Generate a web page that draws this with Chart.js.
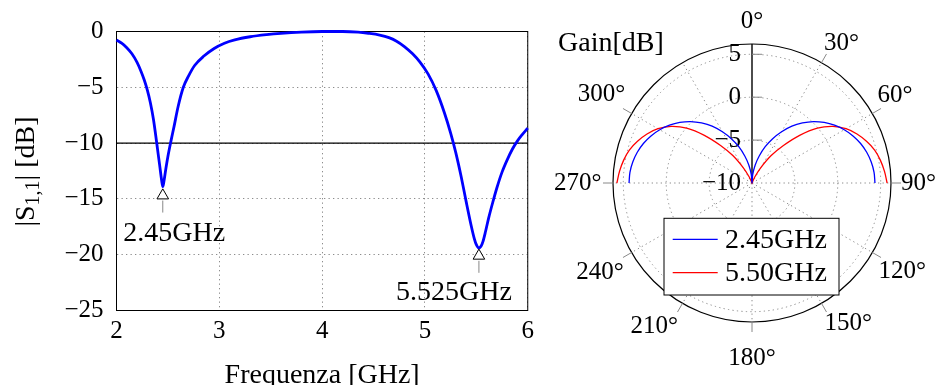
<!DOCTYPE html>
<html><head><meta charset="utf-8">
<script src="https://cdn.jsdelivr.net/npm/chart.js@4.4.1/dist/chart.umd.min.js"></script>
<style>
html,body{margin:0;padding:0;background:#fff;overflow:hidden;width:942px;height:385px;position:relative;}
#c1{position:absolute;left:0;top:0;}
#c2{position:absolute;left:547px;top:-8px;}
</style></head><body>
<canvas id="c1" width="540" height="385"></canvas>
<canvas id="c2" width="396" height="396"></canvas>
<script>
// ---------- Left chart data: |S1,1| vs frequency ----------
const freqGHz = [2.00,2.05,2.10,2.15,2.20,2.24,2.27,2.30,2.33,2.36,2.39,2.42,2.44,2.45,2.46,2.48,2.50,2.53,2.56,2.60,2.65,2.70,2.76,2.85,2.95,3.05,3.15,3.30,3.46,3.60,3.80,4.00,4.20,4.35,4.45,4.56,4.65,4.72,4.80,4.88,4.95,5.03,5.11,5.19,5.25,5.30,5.35,5.40,5.45,5.48,5.50,5.525,5.545,5.565,5.59,5.62,5.66,5.70,5.75,5.80,5.85,5.90,5.95,6.00];
const s11dB = [-0.76,-1.05,-1.45,-2.0,-2.77,-3.6,-4.35,-5.25,-6.4,-7.9,-9.9,-12.0,-13.4,-13.9,-13.5,-12.3,-11.2,-9.8,-8.5,-6.7,-5.0,-4.0,-3.05,-2.2,-1.52,-1.05,-0.75,-0.47,-0.28,-0.16,-0.05,0,0,-0.06,-0.16,-0.32,-0.55,-0.85,-1.35,-2.0,-2.72,-3.8,-5.3,-7.3,-9.1,-10.85,-12.9,-15.2,-17.4,-18.55,-19.1,-19.4,-19.25,-18.8,-17.9,-16.7,-15.3,-14.0,-12.6,-11.5,-10.55,-9.8,-9.2,-8.65];
const thresholdDb = -10;
const markerFreqGHz = [2.45, 5.525];
const markerDb = [-14.7, -20.1];
const markerLabels = ['2.45GHz', '5.525GHz'];
const xTickValues = [2, 3, 4, 5, 6];
const yTickValues = [-25, -20, -15, -10, -5, 0];

// ---------- Right chart data: polar gain ----------
const anglesDeg = [0,5,10,15,20,25,30,35,40,45,50,55,60,65,70,75,80,85,90,95,100,105,110,115,120,125,130,135,140,145,150,155,160,165,170,175,180,185,190,195,200,205,210,215,220,225,230,235,240,245,250,255,260,265,270,275,280,285,290,295,300,305,310,315,320,325,330,335,340,345,350,355];
const gain245 = [-10,-9.0,-7.9,-6.75,-5.5,-4.3,-3.1,-1.9,-0.85,0.13,0.98,1.74,2.41,2.99,3.47,3.84,4.11,4.28,4.33,
 null,null,null,null,null,null,null,null,null,null,null,null,null,null,null,null,null,null,null,null,null,null,null,null,null,null,null,null,null,null,null,null,null,null,null,
 4.33,4.28,4.11,3.84,3.47,2.99,2.41,1.74,0.98,0.13,-0.85,-1.9,-3.1,-4.3,-5.5,-6.75,-7.9,-9.0];
const gain550 = [-10,-10,-10,-10,-10,-9.2,-7.9,-6.1,-4.3,-2.15,-0.05,1.5,2.65,3.5,4.2,4.8,5.2,5.5,5.75,
 null,null,null,null,null,null,null,null,null,null,null,null,null,null,null,null,null,null,null,null,null,null,null,null,null,null,null,null,null,null,null,null,null,null,null,
 5.75,5.5,5.2,4.8,4.2,3.5,2.65,1.5,-0.05,-2.15,-4.3,-6.1,-7.9,-9.2,-10,-10,-10,-10];
const seriesNames = ['2.45GHz', '5.50GHz'];
const shownAngleLabels = [0,30,60,90,120,150,180,210,240,270,300];
const radialTickValues = [-10, -5, 0, 5];
const radialMin = -10, radialMax = 6.2;

const FONT = '"Liberation Serif", "Times New Roman", serif';
Chart.defaults.font.family = FONT;
Chart.defaults.color = '#000';
const minus = v => String(v).replace('-', '\u2212');
const DOTS = [1.3, 3.2];

// ---------- Left chart ----------
const leftExtras = {
  id: 'leftExtras',
  beforeDatasetsDraw(chart) {
    const a = chart.chartArea, ctx = chart.ctx;
    ctx.save();
    ctx.setLineDash([]);
    ctx.strokeStyle = '#000'; ctx.lineWidth = 1;
    ctx.strokeRect(a.left, a.top, a.right - a.left, a.bottom - a.top);
    ctx.restore();
  },
  afterDatasetsDraw(chart) {
    const ctx = chart.ctx, xs = chart.scales.x, ys = chart.scales.y;
    const dx = [11.5, -25], dy = [45.5, 44];
    ctx.save();
    markerFreqGHz.forEach((f, i) => {
      const px = xs.getPixelForValue(f), py = ys.getPixelForValue(markerDb[i]);
      ctx.strokeStyle = '#888'; ctx.lineWidth = 1;
      ctx.beginPath(); ctx.moveTo(px, py + 5); ctx.lineTo(px, py + 17); ctx.stroke();
      ctx.fillStyle = '#000'; ctx.font = '28px ' + FONT;
      ctx.textAlign = 'center'; ctx.textBaseline = 'alphabetic';
      ctx.fillText(markerLabels[i], px + dx[i], py + dy[i]);
    });
    ctx.restore();
  },
  afterDraw(chart) {
    const ctx = chart.ctx;
    ctx.save();
    ctx.translate(33.5, 171.5);
    ctx.rotate(-Math.PI / 2);
    const parts = [['|S', '28px ' + FONT, 0], ['1,1', '20px ' + FONT, 5], ['| [dB]', '28px ' + FONT, 0]];
    let total = 0;
    parts.forEach(p => { ctx.font = p[1]; p.w = ctx.measureText(p[0]).width; total += p.w; });
    let x = -total / 2;
    ctx.fillStyle = '#000'; ctx.textAlign = 'left'; ctx.textBaseline = 'alphabetic';
    parts.forEach(p => { ctx.font = p[1]; ctx.fillText(p[0], x, p[2]); x += p.w; });
    ctx.restore();
  }
};

new Chart(document.getElementById('c1'), {
  type: 'line',
  data: {
    datasets: [
      { label: 'S11', data: freqGHz.map((f, i) => ({x: f, y: s11dB[i]})), borderColor: '#0000ff', borderWidth: 2.8,
        pointRadius: 0, cubicInterpolationMode: 'monotone', fill: false, clip: false, order: 1 },
      { label: 'threshold', data: [{x: xTickValues[0], y: thresholdDb}, {x: xTickValues[xTickValues.length - 1], y: thresholdDb}],
        borderColor: '#000', borderWidth: 1.3, pointRadius: 0, fill: false, order: 2 },
      { label: 'markers', data: markerFreqGHz.map((f, i) => ({x: f, y: markerDb[i]})), showLine: false,
        pointStyle: 'triangle', pointRadius: 6.7, pointBorderColor: '#000', pointBackgroundColor: '#fff', pointBorderWidth: 1, order: 0 }
    ]
  },
  options: {
    responsive: false, animation: false, devicePixelRatio: 1,
    layout: { padding: { top: 31.5, right: 12, left: 0, bottom: 0 } },
    plugins: { legend: { display: false }, tooltip: { enabled: false } },
    scales: {
      x: {
        type: 'linear', min: 2, max: 6,
        afterBuildTicks: s => { s.ticks = xTickValues.map(v => ({value: v})); },
        afterFit: s => { s.height = 74.5; },
        grid: { color: '#8c8c8c', lineWidth: 1, borderDash: DOTS, drawTicks: false },
        border: { display: true, color: '#000', width: 1, dash: DOTS },
        ticks: { padding: 6, font: { size: 25 }, color: '#000', maxRotation: 0, autoSkip: false },
        title: { display: true, text: 'Frequenza [GHz]', color: '#000', font: { size: 28, lineHeight: 1 }, padding: { top: 0, bottom: -5 } }
      },
      y: {
        type: 'linear', min: -25, max: 0,
        afterBuildTicks: s => { s.ticks = yTickValues.map(v => ({value: v})); },
        afterFit: s => { s.width = 116.5; },
        grid: { color: '#8c8c8c', lineWidth: 1, borderDash: DOTS, drawTicks: false },
        border: { display: true, color: '#000', width: 1, dash: DOTS },
        ticks: { padding: 13, font: { size: 25 }, color: '#000', callback: v => minus(v), autoSkip: false }
      }
    }
  },
  plugins: [leftExtras]
});

// ---------- Right chart (polar) ----------
const labelPadding = {0: 8, 30: 5, 60: 6, 90: 10, 120: 7, 150: 6, 180: 21, 210: 9, 240: 9, 270: 11.5, 300: 7.5};
const polarExtras = {
  id: 'polarExtras',
  beforeDatasetsDraw(chart) {
    const r = chart.scales.r, ctx = chart.ctx, cx = r.xCenter, cy = r.yCenter;
    ctx.save();
    ctx.setLineDash([]);
    ctx.strokeStyle = '#888'; ctx.lineWidth = 1;
    anglesDeg.forEach((a, i) => {
      if (!shownAngleLabels.includes(a) || a === 0) return;
      const p1 = r.getPointPosition(i, r.drawingArea), p2 = r.getPointPosition(i, r.drawingArea + 10);
      ctx.beginPath(); ctx.moveTo(p1.x, p1.y); ctx.lineTo(p2.x, p2.y); ctx.stroke();
    });
    ctx.font = '25px ' + FONT; ctx.fillStyle = '#000'; ctx.textAlign = 'right'; ctx.textBaseline = 'middle';
    radialTickValues.forEach(v => {
      const d = r.getDistanceFromCenterForValue(v);
      if (v > radialMin) {
        ctx.beginPath(); ctx.moveTo(cx, cy - d); ctx.lineTo(cx + 10, cy - d); ctx.stroke();
      }
      ctx.fillText(minus(v), cx - 11, cy - d);
    });
    ctx.restore();
  },
  afterDraw(chart) {
    const r = chart.scales.r, ctx = chart.ctx, cx = r.xCenter, cy = r.yCenter;
    ctx.save();
    ctx.setLineDash([]);
    const bx = cx - 88, by = cy + 35.3, bw = 175, bh = 76.7;
    ctx.fillStyle = '#fff'; ctx.fillRect(bx, by, bw, bh);
    ctx.strokeStyle = '#000'; ctx.lineWidth = 1; ctx.strokeRect(bx, by, bw, bh);
    chart.data.datasets.forEach((ds, k) => {
      const y = by + 21 + k * 33.4;
      ctx.strokeStyle = ds.borderColor; ctx.lineWidth = 1.3;
      ctx.beginPath(); ctx.moveTo(bx + 8.7, y); ctx.lineTo(bx + 53.7, y); ctx.stroke();
      ctx.fillStyle = '#000'; ctx.font = '28px ' + FONT; ctx.textAlign = 'left'; ctx.textBaseline = 'middle';
      ctx.fillText(ds.label, bx + 61, y + 1);
    });
    ctx.font = '28px ' + FONT; ctx.textAlign = 'left'; ctx.textBaseline = 'alphabetic'; ctx.fillStyle = '#000';
    ctx.fillText('Gain[dB]', cx - 194, cy - 132);
    ctx.restore();
  }
};

new Chart(document.getElementById('c2'), {
  type: 'radar',
  data: {
    labels: anglesDeg.map(a => a + '°'),
    datasets: [
      { label: seriesNames[0], data: gain245, borderColor: '#0000ff', borderWidth: 1.3, pointRadius: 0, fill: false, tension: 0.35, spanGaps: false },
      { label: seriesNames[1], data: gain550, borderColor: '#ff0000', borderWidth: 1.3, pointRadius: 0, fill: false, tension: 0.35, spanGaps: false }
    ]
  },
  options: {
    responsive: false, animation: false, devicePixelRatio: 1,
    plugins: { legend: { display: false }, tooltip: { enabled: false } },
    scales: {
      r: {
        min: radialMin, max: radialMax, startAngle: 0,
        afterBuildTicks: s => { s.ticks = radialTickValues.concat([radialMax]).map(v => ({value: v})); },
        ticks: { display: false },
        grid: {
          circular: true,
          color: c => (c.tick && c.tick.value === radialMax) ? '#000' : '#8c8c8c',
          lineWidth: c => (c.tick && c.tick.value === radialMax) ? 1.2 : 1,
          borderDash: c => (c.tick && c.tick.value === radialMax) ? [] : DOTS
        },
        border: { dash: c => (c.tick && c.tick.value === radialMax) ? [] : DOTS },
        angleLines: {
          display: true,
          color: c => c.index === 0 ? '#000' : '#8c8c8c',
          lineWidth: c => shownAngleLabels.includes(anglesDeg[c.index]) || anglesDeg[c.index] === 330 ? (c.index === 0 ? 1.4 : 1) : 0,
          borderDash: c => c.index === 0 ? [] : DOTS
        },
        pointLabels: {
          display: true, color: '#000', font: { size: 25 },
          padding: c => { const a = anglesDeg[c.index]; return labelPadding[a] !== undefined ? labelPadding[a] : 0; },
          callback: (label, i) => shownAngleLabels.includes(anglesDeg[i]) ? label : ''
        }
      }
    }
  },
  plugins: [polarExtras]
});
</script>
</body></html>
